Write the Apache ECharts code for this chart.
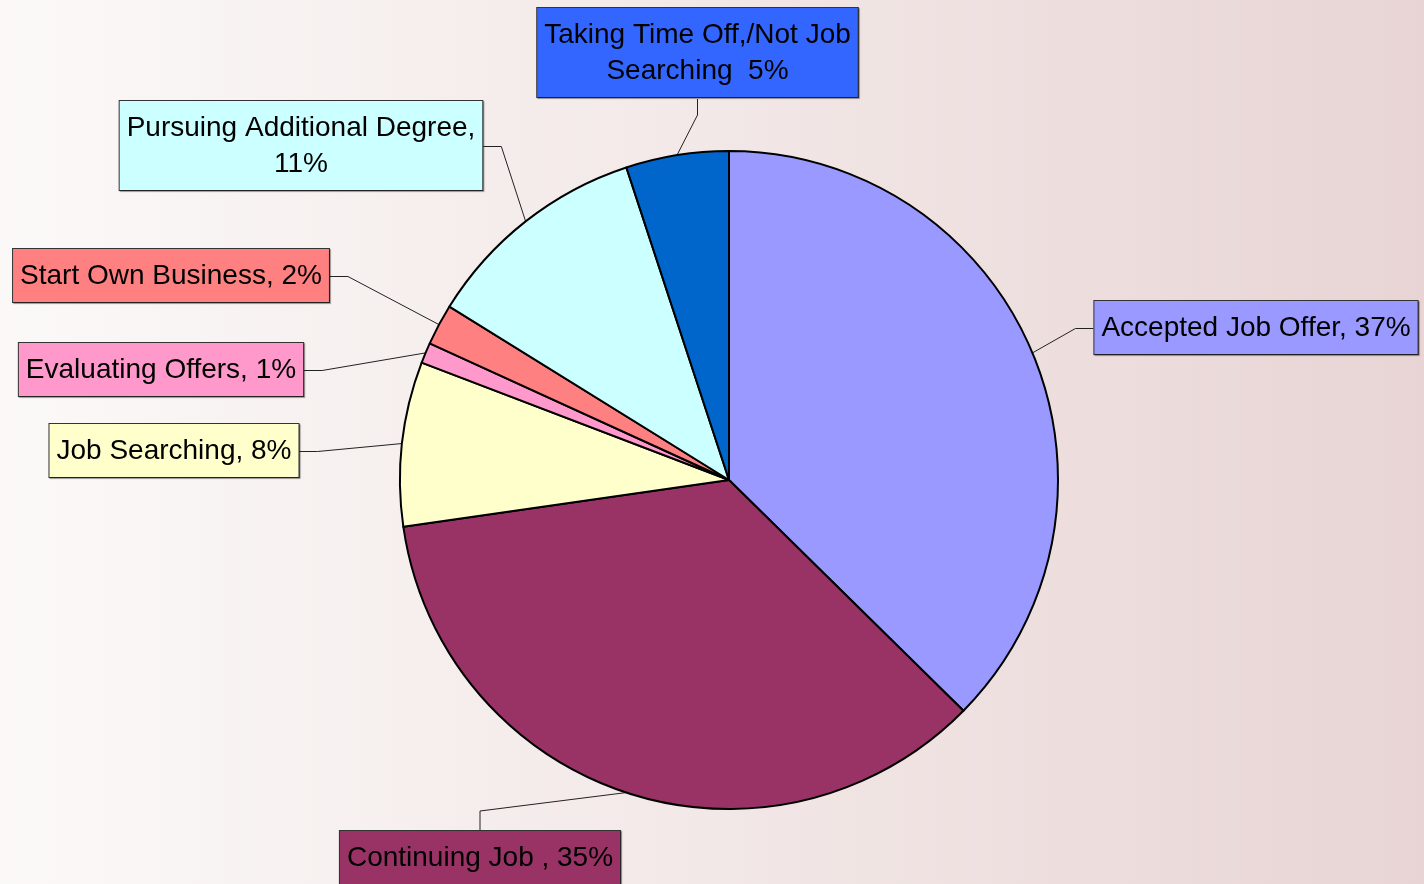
<!DOCTYPE html>
<html>
<head>
<meta charset="utf-8">
<script src="https://cdn.jsdelivr.net/npm/echarts@6/dist/echarts.min.js"></script>
<style>
  html, body { margin: 0; padding: 0; }
  #chart { width: 1424px; height: 884px; }
</style>
</head>
<body>
<div id="chart"></div>
<script>
// Post-graduation plans, share of respondents (%)
const categories = [
  'Accepted Job Offer',
  'Continuing Job ',
  'Job Searching',
  'Evaluating Offers',
  'Start Own Business',
  'Pursuing Additional Degree',
  'Taking Time Off,/Not Job Searching '
];
const values = [37, 35, 8, 1, 2, 11, 5];
const labelTexts = [
  'Accepted Job Offer, 37%',
  'Continuing Job , 35%',
  'Job Searching, 8%',
  'Evaluating Offers, 1%',
  'Start Own Business, 2%',
  'Pursuing Additional Degree,\n11%',
  'Taking Time Off,/Not Job\nSearching  5%'
];
const sliceColors = ['#9999ff', '#993366', '#ffffcc', '#ff99cc', '#ff8080', '#ccffff', '#0066cc'];
const labelBoxColors = ['#9999ff', '#993366', '#ffffcc', '#ff99cc', '#ff8080', '#ccffff', '#3366ff'];

// Callout placement: box centre x, box top y, and which side the leader line attaches to
const calloutSpots = [
  { cx: 1256, top: 301, side: 'left' },
  { cx: 480, top: 831, side: 'top' },
  { cx: 174, top: 424, side: 'right' },
  { cx: 161, top: 343, side: 'right' },
  { cx: 171, top: 249, side: 'right' },
  { cx: 301, top: 101, side: 'right' },
  { cx: 697.5, top: 8, side: 'bottom' }
];
const ELBOW = 18;

const chart = echarts.init(document.getElementById('chart'), null, { renderer: 'canvas' });

// Point on the rim of a slice at its mid angle
function edgePoint(idx) {
  const lay = chart.getModel().getSeriesByIndex(0).getData().getItemLayout(idx);
  const mid = (lay.startAngle + lay.endAngle) / 2;
  return [lay.cx + lay.r * Math.cos(mid), lay.cy + lay.r * Math.sin(mid)];
}

const option = {
  backgroundColor: {
    type: 'linear', x: 0, y: 0, x2: 1, y2: 0,
    colorStops: [
      { offset: 0, color: '#fbf9f8' },
      { offset: 0.5, color: '#f2e8e7' },
      { offset: 1, color: '#e8d4d4' }
    ]
  },
  animation: false,
  series: [{
    type: 'pie',
    center: [729, 480],
    radius: [0, 329],
    startAngle: 90,
    clockwise: true,
    avoidLabelOverlap: false,
    silent: true,
    itemStyle: { borderColor: '#000', borderWidth: 2 },
    label: {
      show: true,
      position: 'outside',
      fontFamily: 'Liberation Sans, Arial, sans-serif',
      fontSize: 28,
      lineHeight: 36,
      color: '#000',
      align: 'center',
      padding: [9, 7, 8, 7],
      borderColor: '#333',
      borderWidth: 1,
      shadowColor: 'rgba(0,0,0,0.35)',
      shadowOffsetX: 1,
      shadowOffsetY: 1,
      shadowBlur: 1
    },
    labelLine: {
      show: true,
      lineStyle: { color: '#222', width: 1 }
    },
    labelLayout: function (p) {
      const i = p.dataIndex;
      const s = calloutSpots[i];
      const w = p.labelRect.width;
      const h = p.labelRect.height;
      const edge = edgePoint(i);
      let attach, elbow;
      if (s.side === 'left') {
        attach = [s.cx - w / 2, s.top + h / 2];
        elbow = [attach[0] - ELBOW, attach[1]];
      } else if (s.side === 'right') {
        attach = [s.cx + w / 2, s.top + h / 2];
        elbow = [attach[0] + ELBOW, attach[1]];
      } else if (s.side === 'top') {
        attach = [s.cx, s.top];
        elbow = [attach[0], attach[1] - 20];
      } else {
        attach = [s.cx, s.top + h];
        elbow = [attach[0], attach[1] + 16];
      }
      return {
        x: s.cx,
        y: s.top,
        align: 'center',
        verticalAlign: 'top',
        labelLinePoints: [edge, elbow, attach]
      };
    },
    data: categories.map(function (name, i) {
      return {
        name: name,
        value: values[i],
        itemStyle: { color: sliceColors[i] },
        label: {
          formatter: labelTexts[i],
          backgroundColor: labelBoxColors[i]
        }
      };
    })
  }]
};

chart.setOption(option);
</script>
</body>
</html>
